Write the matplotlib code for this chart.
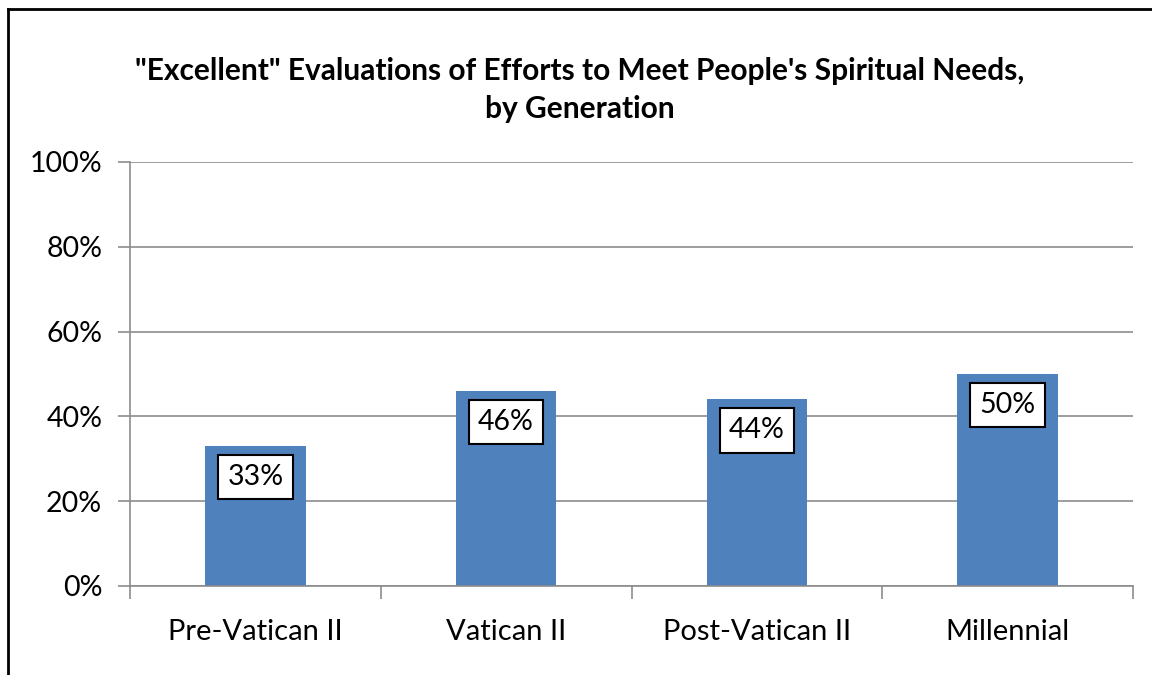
import matplotlib
matplotlib.use("Agg")
import matplotlib.pyplot as plt
from matplotlib.ticker import FuncFormatter, FixedLocator

categories = ["Pre-Vatican II", "Vatican II", "Post-Vatican II", "Millennial"]
values = [33, 46, 44, 50]
labels = ["33%", "46%", "44%", "50%"]
yticks = [0, 20, 40, 60, 80, 100]

plt.rcParams['font.family'] = ['Lato', 'DejaVu Sans']

fig = plt.figure(figsize=(11.52, 6.75), dpi=100)
W, H = 1152, 675
ax = fig.add_axes([130 / W, 1 - 586 / H, (1133 - 130) / W, (586 - 162) / H])

x = list(range(len(categories)))
ax.bar(x, values, width=0.4, color="#4F81BD", zorder=2)
ax.set_xlim(-0.5, len(categories) - 0.5)
ax.set_ylim(0, 100)
ax.set_yticks(yticks)
ax.yaxis.set_major_formatter(FuncFormatter(lambda v, p: f"{v:.0f}%"))
ax.grid(axis="y", color="#8C8C8C", linewidth=1.2, zorder=0)
ax.set_axisbelow(True)
for s in ["top", "right"]:
    ax.spines[s].set_visible(False)
for s in ["left", "bottom"]:
    ax.spines[s].set_color("#8C8C8C")
    ax.spines[s].set_linewidth(1.2)
ax.tick_params(axis="y", length=9, width=1.2, color="#8C8C8C", labelsize=20.5, pad=11)
ax.set_xticks(x)
ax.set_xticklabels(categories)
ax.tick_params(axis="x", length=0, labelsize=21, pad=24)
ax.xaxis.set_minor_locator(FixedLocator([i - 0.5 for i in range(len(categories) + 1)]))
ax.tick_params(axis="x", which="minor", length=9, width=1.2, color="#8C8C8C", direction="out")

for xi, v, lab in zip(x, values, labels):
    ax.text(xi, v - 7.3, lab, ha="center", va="center", fontsize=20.5, zorder=4,
            bbox=dict(boxstyle="square,pad=0.33", facecolor="white", edgecolor="black", linewidth=1.5))

fig.text(580 / W, 1 - 90 / H,
         "\"Excellent\" Evaluations of Efforts to Meet People's Spiritual Needs,\nby Generation",
         ha="center", va="center", fontsize=21.5, fontweight="bold", linespacing=1.4)

# outer frame (left and top visible)
fig.add_artist(plt.Line2D([7.5 / W, 7.5 / W], [0, 1 - 8.5 / H], transform=fig.transFigure, color="black", linewidth=2))
fig.add_artist(plt.Line2D([7.5 / W, 1], [1 - 8.5 / H, 1 - 8.5 / H], transform=fig.transFigure, color="black", linewidth=2))

fig.savefig("out.png", dpi=100)
